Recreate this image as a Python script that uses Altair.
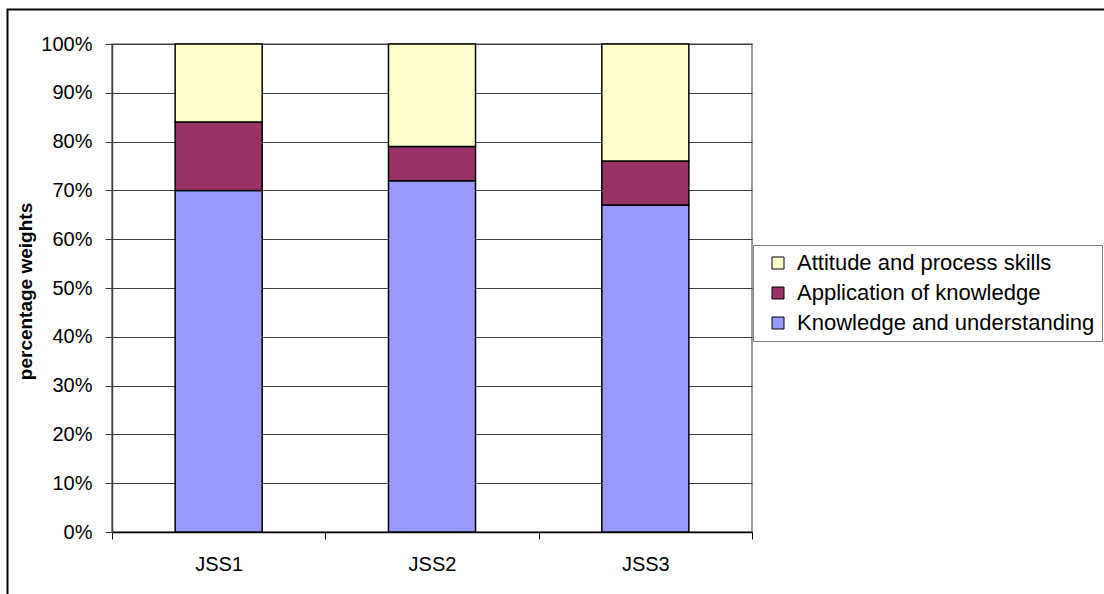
import altair as alt
import pandas as pd

# Assessment weights by class level (percent of total)
grades = ["JSS1", "JSS2", "JSS3"]
knowledge = [70, 72, 67]
application = [14, 7, 9]
attitude = [16, 21, 24]

components = [
    "Attitude and process skills",
    "Application of knowledge",
    "Knowledge and understanding",
]
colors = ["#FFFFCC", "#993366", "#9999FF"]

# long table; rank 0 sits at the bottom of each stack
series = [(components[2], knowledge), (components[1], application), (components[0], attitude)]
rows = []
for i, g in enumerate(grades):
    for rank, (name, vals) in enumerate(series):
        rows.append({"grade": g, "component": name, "weight": vals[i], "rank": rank})
df = pd.DataFrame(rows)

FONT = "Liberation Sans"

bars = alt.Chart(df).mark_bar(
    width=alt.RelativeBandSize(0.408), stroke="black", strokeWidth=1.5
).encode(
    x=alt.X(
        "grade:N",
        sort=grades,
        title=None,
        scale=alt.Scale(paddingInner=0, paddingOuter=0),
        axis=alt.Axis(
            labelAngle=0,
            tickBand="extent",
            tickSize=7,
            labelPadding=15,
            domainColor="black",
            domainWidth=1.5,
            tickColor="black",
            tickWidth=1,
            grid=False,
        ),
    ),
    y=alt.Y(
        "weight:Q",
        stack="normalize",
        title="percentage weights",
        scale=alt.Scale(domain=[0, 1], nice=False),
        axis=alt.Axis(
            format="%",
            values=[i / 10 for i in range(11)],
            tickSize=7,
            labelPadding=13,
            domainColor="#404040",
            domainWidth=1.5,
            tickColor="#404040",
            grid=True,
            gridColor="#404040",
            gridWidth=1,
            titleX=-77,
            titleY=247,
            titleBaseline="bottom",
            titleAngle=-90,
        ),
    ),
    color=alt.Color(
        "component:N",
        scale=alt.Scale(domain=components, range=colors),
        legend=alt.Legend(
            title=None,
            orient="none",
            legendX=641,
            legendY=201,
            symbolType="square",
            symbolSize=144,
            symbolStrokeColor="black",
            symbolStrokeWidth=1,
            symbolOffset=7,
            labelOffset=8,
            labelFontSize=22,
            labelFont=FONT,
            labelColor="black",
            labelLimit=400,
            rowPadding=8,
            padding=7,
            strokeColor="#808080",
            fillColor="white",
        ),
    ),
    order=alt.Order("rank:Q", sort="ascending"),
)

# outer chart frame
frame = alt.Chart(alt.Data(values=[{}])).mark_rect(
    fillOpacity=0, stroke="black", strokeWidth=2
).encode(
    x=alt.value(-104.5), x2=alt.value(1100), y=alt.value(-34.5), y2=alt.value(620)
)

chart = (
    alt.layer(bars, frame)
    .properties(
        width=640,
        height=488,
        autosize=alt.AutoSizeParams(type="none"),
        padding={"left": 112, "top": 44, "right": 352, "bottom": 62},
        background="white",
    )
    .configure_view(stroke="#808080", strokeWidth=1.5)
    .configure_axis(
        labelFont=FONT,
        labelFontSize=20,
        labelColor="black",
        titleFont=FONT,
        titleFontSize=19,
        titleFontWeight="bold",
        titleColor="black",
    )
)

chart.save("out.html", embed_options={"renderer": "svg", "actions": False})
